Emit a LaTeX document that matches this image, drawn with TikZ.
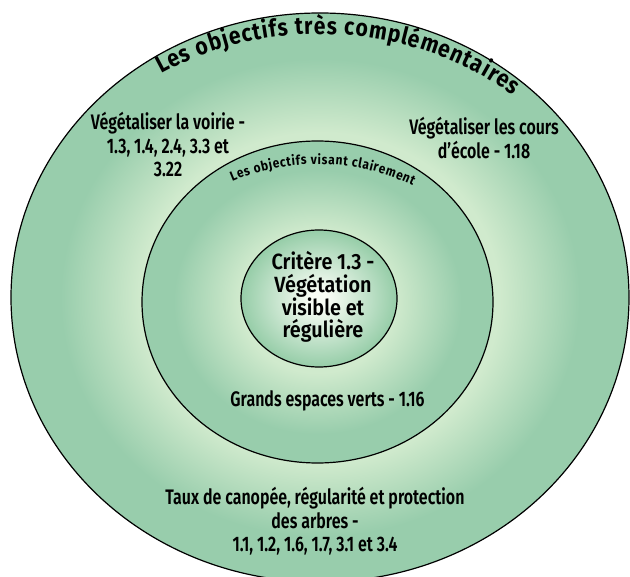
\documentclass[tikz,border=0pt]{standalone}
\usepackage{fontspec}
\setmainfont{Fira Sans}
\newfontfamily\labfont{Fira Sans SemiBold}[FakeStretch=0.76]
\newfontfamily\critfont{Fira Sans SemiBold}[FakeStretch=0.9]
\newfontfamily\arcfont{Fira Sans Bold}[FakeStretch=0.88]
\usetikzlibrary{shapes.geometric,decorations.text}
\definecolor{gdark}{RGB}{152,205,172}
\definecolor{gdarkin}{RGB}{150,205,168}
\definecolor{glight}{RGB}{208,234,205}
\definecolor{gwhite}{RGB}{248,252,244}
\pgfdeclareradialshading{outershade}{\pgfpoint{0bp}{0bp}}{color(0bp)=(glight); color(14.5bp)=(glight); color(21bp)=(gdark); color(25bp)=(gdark); color(50bp)=(gdark)}
\pgfdeclareradialshading{midshade}{\pgfpoint{0bp}{0bp}}{color(0bp)=(glight); color(11bp)=(glight); color(20.5bp)=(gdark); color(25bp)=(gdark); color(50bp)=(gdark)}
\pgfdeclareradialshading{innershade}{\pgfpoint{0bp}{0bp}}{color(0bp)=(gwhite); color(3bp)=(gwhite); color(25bp)=(gdarkin); color(50bp)=(gdarkin)}
\begin{document}
\begin{tikzpicture}[x=1pt,y=1pt,
  ring/.style={ellipse, draw=black, line width=1.2pt, inner sep=0pt, outer sep=0pt},
  lab/.style={align=center, font=\labfont\fontsize{21pt}{23.5pt}\selectfont, text=black, inner sep=0pt},
  crit/.style={align=center, font=\critfont\fontsize{22pt}{22.7pt}\selectfont, text=black, inner sep=0pt}]
\useasboundingbox (0,0) rectangle (630,-577);
\node[ring, shading=outershade, minimum width=618pt, minimum height=569pt] (outer) at (320,-297.5) {};
\node[ring, shading=midshade, minimum width=351pt, minimum height=322pt] (mid) at (317.5,-302) {};
\node[ring, shading=innershade, minimum width=156pt, minimum height=137pt] (inner) at (319,-298.5) {};
\coordinate (sarc) at ([yshift=-42pt]mid.center);
\path[decorate, decoration={text along path, text align=fit to path,
  text={|\arcfont\fontsize{24pt}{24pt}\selectfont|Les objectifs très complémentaires}}]
  ([shift={(122:300pt and 263.5pt)}]outer.center) arc[start angle=122, end angle=50, x radius=300pt, y radius=263.5pt];
\path[decorate, decoration={text along path, text align=fit to path,
  text={|\arcfont\fontsize{13.5pt}{13.5pt}\selectfont|Les objectifs visant clairement}}]
  ([shift={(115.2:200pt and 180pt)}]sarc) arc[start angle=115.2, end angle=61.6, x radius=200pt, y radius=180pt];
\node[lab] (voirie) at (168,-144.5) {Végétaliser la voirie -\\1.3, 1.4, 2.4, 3.3 et\\3.22};
\node[lab] (ecole) at (484,-138) {Végétaliser les cours\\d’école - 1.18};
\node[crit] (critere) at (323,-297) {Critère 1.3 -\\Végétation\\visible et\\régulière};
\node[lab] (grands) at (327.5,-401) {Grands espaces verts - 1.16};
\node[lab] (taux) at (315,-521.5) {Taux de canopée, régularité et protection\\des arbres -\\1.1, 1.2, 1.6, 1.7, 3.1 et 3.4};
\end{tikzpicture}
\end{document}
